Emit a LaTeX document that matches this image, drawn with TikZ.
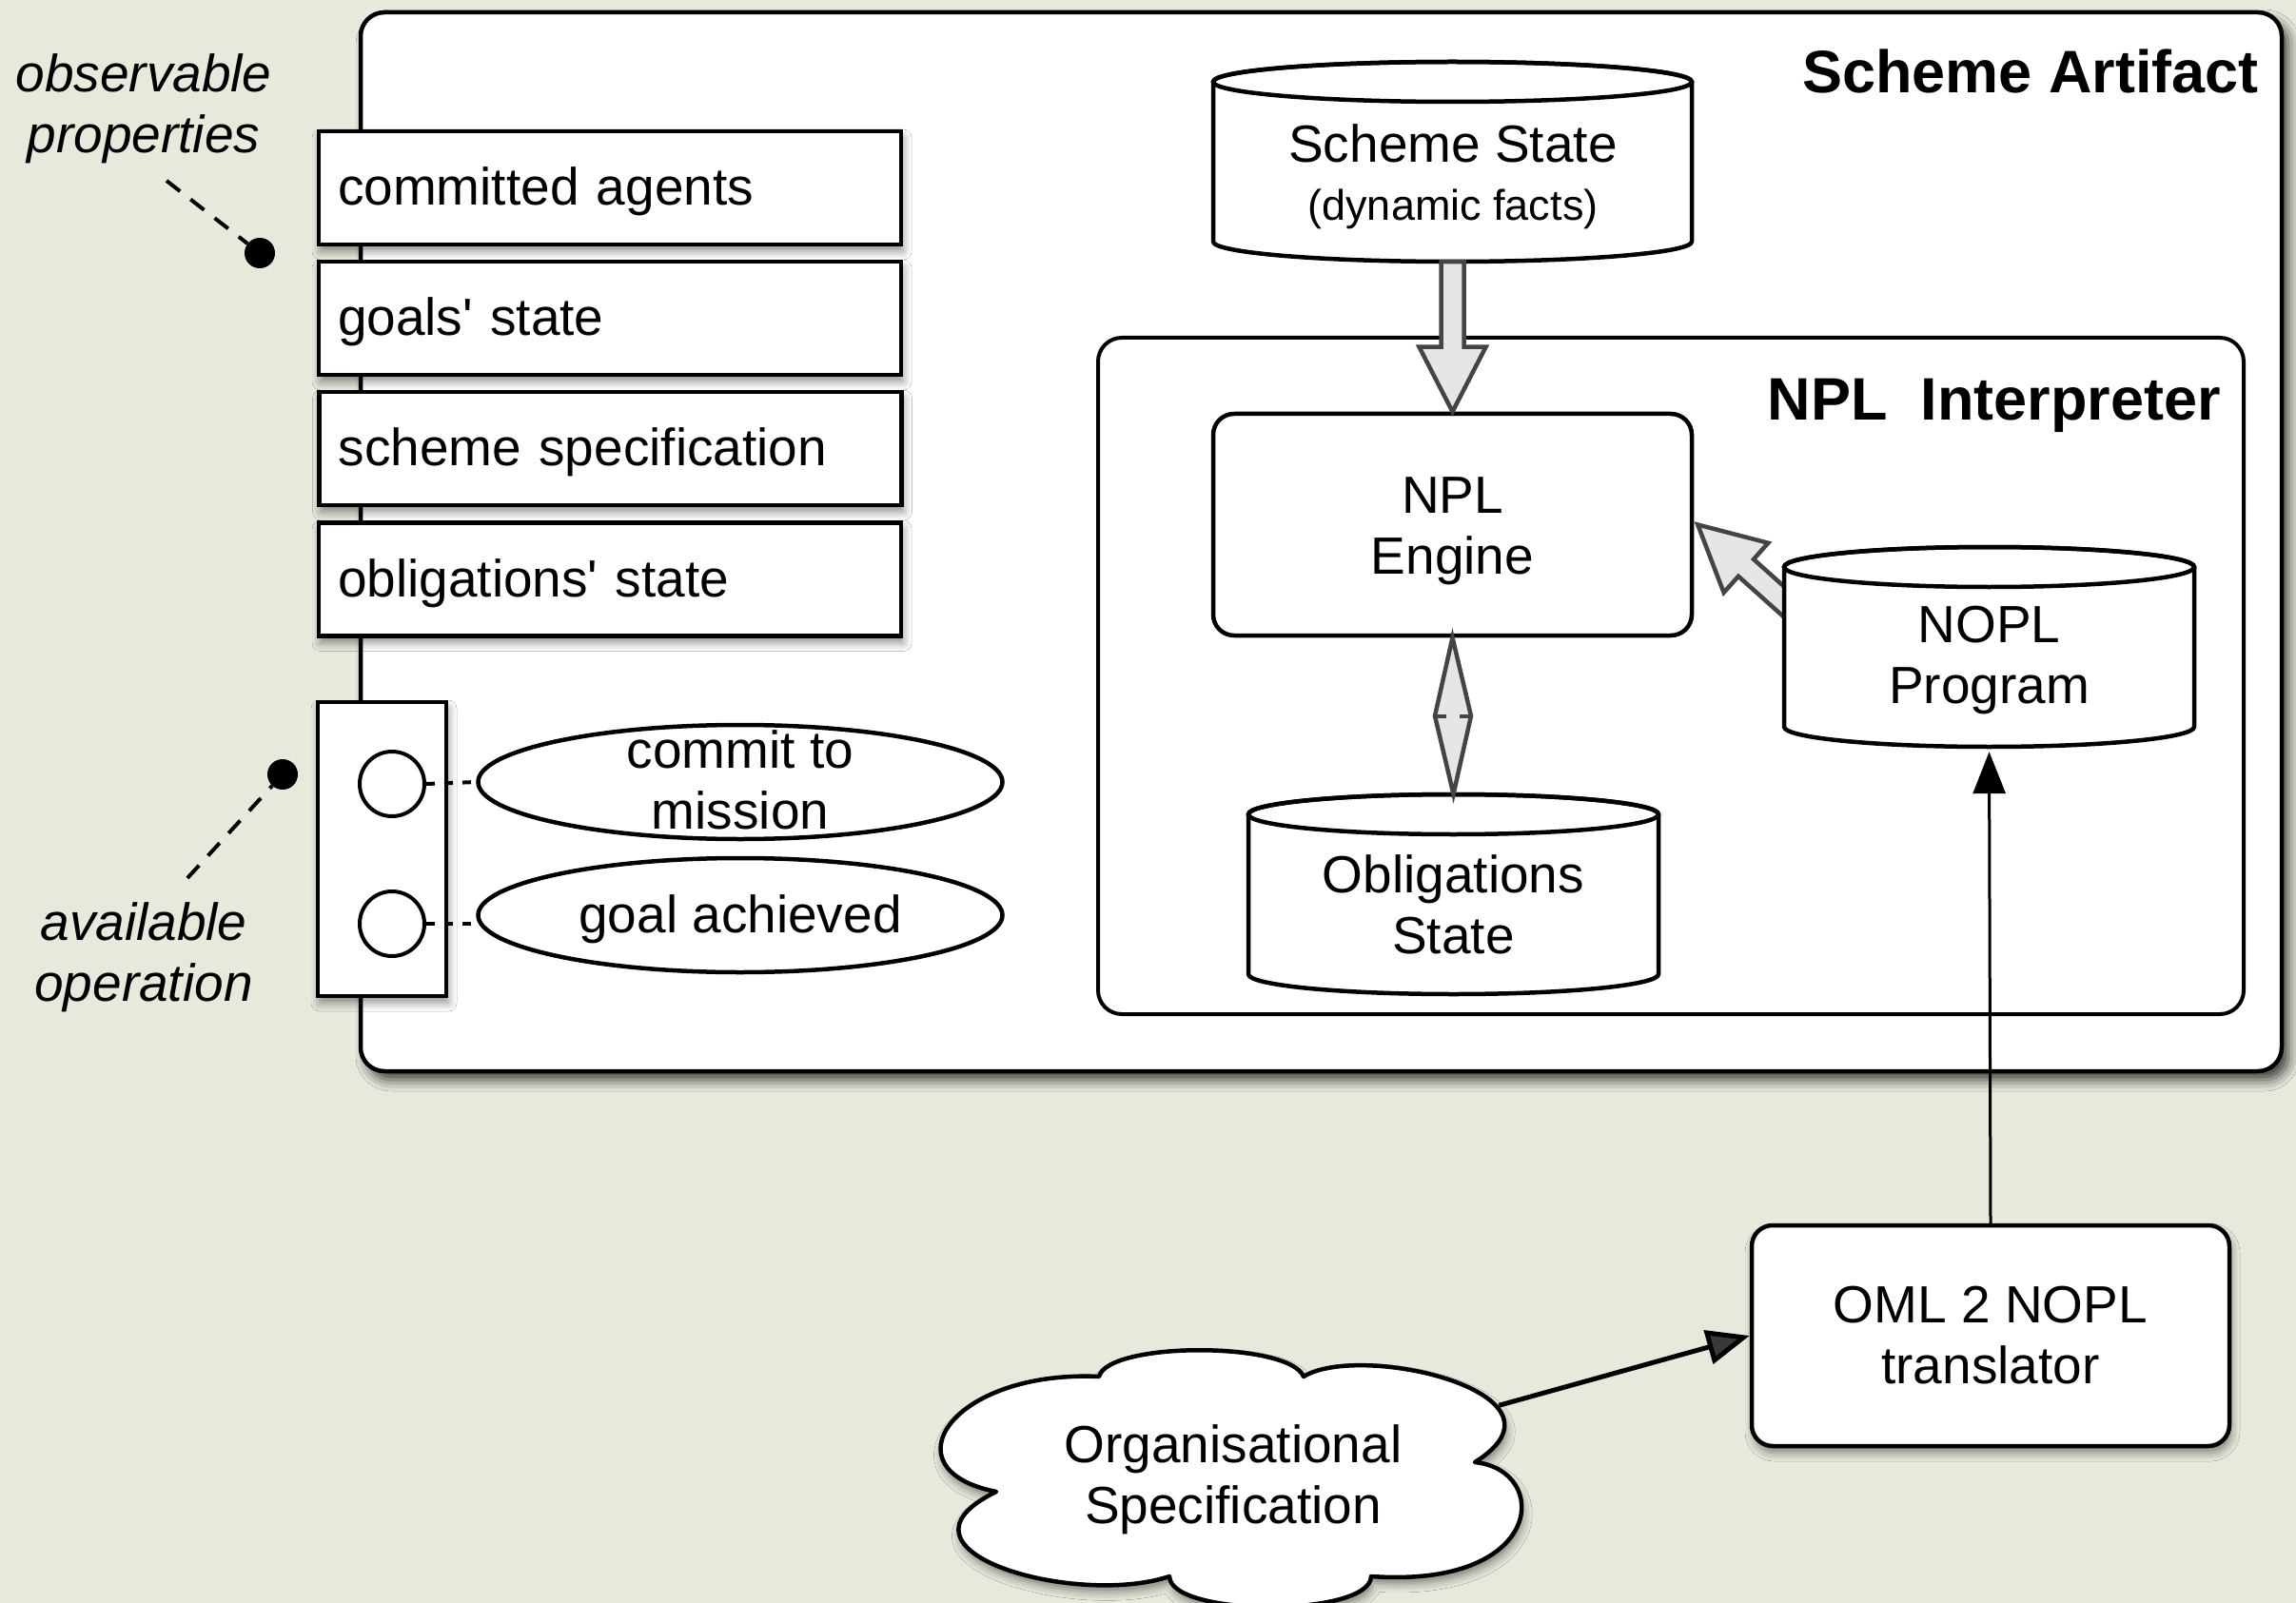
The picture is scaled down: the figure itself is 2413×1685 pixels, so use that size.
\documentclass[tikz,border=0pt]{standalone}
\usepackage{fontspec}
\setmainfont{Liberation Sans}
\usetikzlibrary{arrows.meta,calc,shapes.geometric,shadows.blur}

\definecolor{paper}{RGB}{233,232,221}
\definecolor{hollowfill}{RGB}{230,230,230}
\definecolor{hollowedge}{RGB}{68,68,68}

\tikzset{
  softshadow/.style={blur shadow={shadow xshift=2pt, shadow yshift=-7pt, shadow blur radius=9pt, shadow opacity=45}},
  bigshadow/.style={blur shadow={shadow xshift=7pt, shadow yshift=-9pt, shadow blur radius=12pt, shadow opacity=75}},
  plain/.style={draw=black, fill=white, line width=4.5pt, inner sep=0pt},
  bodytext/.style={font=\fontsize{55}{64}\selectfont, align=center, inner sep=0pt},
  smalltext/.style={font=\fontsize{45}{52}\selectfont, inner sep=0pt},
  titletext/.style={font=\fontsize{63}{70}\selectfont\bfseries, inner sep=0pt, anchor=base east},
  notetext/.style={font=\fontsize{55}{64}\selectfont\itshape, align=center, inner sep=0pt},
  propbox/.style={plain, minimum width=612pt, minimum height=119pt, text width=572pt,
    inner xsep=20pt, align=left, font=\fontsize{55}{64}\selectfont,
    text height=48pt, text depth=12pt, softshadow},
  port/.style={circle, draw=black, fill=white, line width=4pt, minimum size=68pt, inner sep=0pt},
  opell/.style={ellipse, plain, minimum width=551pt, minimum height=120pt},
  dot/.style={circle, fill=black, minimum size=32pt, inner sep=0pt},
  notedash/.style={line width=4pt, dash pattern=on 18pt off 14pt},
  linkdash/.style={line width=4pt, dash pattern=on 9pt off 10pt},
  hollow/.style={fill=hollowfill, draw=hollowedge, line width=4.5pt, line join=miter},
}

% cylinder (data store): name, left, top, right, bottom
\newcommand\dbdrum[5]{%
  \path[plain, line join=round] (#2,#3+21) -- (#2,#5-21)
    arc[start angle=180, end angle=0, x radius={(#4-#2)/2}, y radius=21]
    -- (#4,#3+21)
    arc[start angle=0, end angle=-180, x radius={(#4-#2)/2}, y radius=21] -- cycle;
  \draw[line width=4.5pt] ({(#2+#4)/2},#3+21) ellipse[x radius={(#4-#2)/2}, y radius=21];
  \node[inner sep=0pt, minimum width={#4-#2}, minimum height={#5-#3}] (#1) at ({(#2+#4)/2},{(#3+#5)/2}) {};
}

% wide hollow arrow from #1 (tail) to #2 (tip)
\newcommand\hollowarrow[2]{%
  \coordinate (ha-base) at ($(#2)!68pt!(#1)$);
  \filldraw[hollow] ($(#1)!12pt!90:(#2)$) -- ($(ha-base)!12pt!90:(#2)$)
    -- ($(ha-base)!35pt!90:(#2)$) -- (#2) -- ($(ha-base)!35pt!-90:(#2)$)
    -- ($(ha-base)!12pt!-90:(#2)$) -- ($(#1)!12pt!-90:(#2)$) -- cycle;
}

\begin{document}
\begin{tikzpicture}[x=1pt,y=-1pt]
\useasboundingbox (0,0) rectangle (2413,1685);
\fill[paper] (0,0) rectangle (2413,1685);

% artifact frame
\node[plain, rounded corners=25pt, minimum width=2019pt, minimum height=1113pt, bigshadow] (art) at (1388.5,569.5) {};
\node[titletext] at (2374,98) {Scheme Artifact};

% observable properties
\node[propbox] (p1) at (641,197.5) {committed agents};
\node[propbox] (p2) at (641,334.5) {goals\textquotesingle{} state};
\node[propbox] (p3) at (641.5,471.5) {scheme specification};
\node[propbox] (p4) at (641,609) {obligations\textquotesingle{} state};

% operations
\node[plain, minimum width=135pt, minimum height=309pt, softshadow] (ops) at (401.5,892.5) {};
\node[port] (c1) at (412,824) {};
\node[port] (c2) at (412,971) {};
\node[opell] (e1) at (778,822) {};
\node[opell] (e2) at (778,962) {};
\node[bodytext] at (778,820) {commit to\\mission};
\node[bodytext] at (778,966) {goal achieved};
\draw[linkdash] (c1.east) -- (e1.west);
\draw[linkdash] (c2.east) -- (c2.east -| e2.west);

% annotations
\node[notetext] (obs) at (151,114) {observable\\properties};
\node[dot] (d1) at (273,266) {};
\coordinate (n1) at (175,190);
\draw[notedash] (n1) -- (d1);
\node[notetext] (avl) at (151,1006) {available\\operation};
\node[dot] (d2) at (297,814) {};
\coordinate (n2) at (197,923);
\draw[notedash] (n2) -- (d2);

% scheme state
\dbdrum{ss}{1275}{65}{1778}{275}
\node[bodytext, anchor=base] at (1527,171) {Scheme State};
\node[smalltext, anchor=base] at (1527,232) {(dynamic facts)};

% NPL interpreter
\node[plain, line width=4pt, rounded corners=25pt, minimum width=1204pt, minimum height=711pt] (npl) at (1756,710.5) {};
\node[titletext] at (2334,442) {NPL\ \ Interpreter};
\node[plain, rounded corners=22pt, minimum width=503pt, minimum height=233pt] (eng) at (1526.5,551.5) {};
\node[bodytext] at ($(eng.center)+(0,7)$) {NPL\\Engine};
\hollowarrow{ss.south}{eng.north}

\coordinate (ntail) at (1900,655);
\coordinate (ntip) at ($(eng.east)+(4,0)$);
\hollowarrow{ntail}{ntip}
\dbdrum{nopl}{1875}{575}{2306}{785}
\node[bodytext] at (2090.5,694) {NOPL\\Program};

\dbdrum{obl}{1312}{835}{1743}{1045}
\node[bodytext] at (1527.5,951) {Obligations\\State};

\coordinate (dm) at ($(eng.south)!0.5!(obl.north)$);
\filldraw[hollow] (eng.south) -- ($(dm)+(19,0)$) -- (obl.north) -- ($(dm)+(-19,0)$) -- cycle;
\draw[hollowedge, line width=4pt, dash pattern=on 12pt off 14pt] ($(dm)+(-19,0)$) -- ($(dm)+(19,0)$);

% translator
\node[plain, rounded corners=22pt, minimum width=502pt, minimum height=232pt, softshadow, bodytext] (tr) at (2092,1404) {OML 2 NOPL\\translator};
\draw[-{Triangle[length=44pt,width=34pt]}, line width=3pt, shorten >=5pt] (tr.north) -- (nopl.south);

% organisational specification cloud
\path[plain, line join=round, softshadow]
  (1047,1568) .. controls (930,1545) and (1000,1440) .. (1155,1447)
  .. controls (1165,1410) and (1355,1410) .. (1370,1447)
  .. controls (1430,1410) and (1665,1465) .. (1550,1537)
  .. controls (1630,1545) and (1625,1670) .. (1441,1657)
  .. controls (1440,1700) and (1230,1700) .. (1229,1657)
  .. controls (1130,1690) and (920,1630) .. (1047,1568) -- cycle;
\node[bodytext] (org) at (1296,1555) {Organisational\\Specification};
\draw[-{Triangle[length=45pt,width=36pt]}, line width=5pt, shorten <=290pt] (org.center) -- (tr.west);
\end{tikzpicture}
\end{document}
